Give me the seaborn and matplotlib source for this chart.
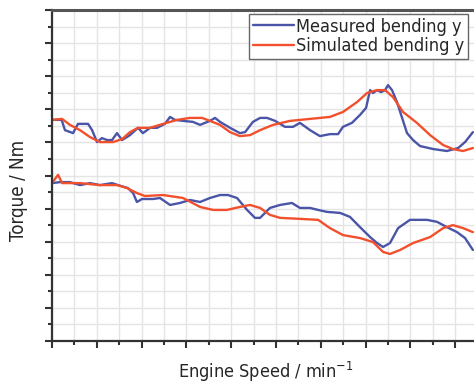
import numpy as np
import pandas as pd
import seaborn as sns
import matplotlib.pyplot as plt
from matplotlib.ticker import MultipleLocator, NullFormatter

# values (x = engine speed, y = torque, arbitrary units)
upper_meas_x = [0, 0.43, 0.58, 0.94, 1.16, 1.61, 1.79, 2.01, 2.23, 2.46, 2.68, 2.90, 3.13, 3.48, 3.84,
                4.06, 4.38, 4.69, 5.04, 5.27, 5.49, 5.85, 6.29, 6.61, 7.05, 7.28, 7.50, 7.95, 8.39, 8.62,
                8.97, 9.29, 9.60, 9.96, 10.40, 10.76, 11.07, 11.52, 11.96, 12.41, 12.77, 12.99, 13.39,
                13.75, 14.02, 14.20, 14.33, 14.51, 14.69, 14.87, 15.00, 15.18, 15.40, 15.63, 15.85,
                16.12, 16.43, 17.01, 17.63, 18.13, 18.44, 18.79]
upper_meas_y = [6.68, 6.68, 6.37, 6.28, 6.56, 6.56, 6.37, 6.01, 6.13, 6.07, 6.07, 6.28, 6.07, 6.22, 6.44,
                6.28, 6.44, 6.44, 6.56, 6.77, 6.68, 6.65, 6.62, 6.53, 6.65, 6.74, 6.62, 6.44, 6.28, 6.31,
                6.62, 6.74, 6.74, 6.65, 6.47, 6.47, 6.59, 6.37, 6.19, 6.25, 6.25, 6.47, 6.59,
                6.83, 7.04, 7.58, 7.49, 7.58, 7.52, 7.58, 7.73, 7.58, 7.22, 6.74, 6.28,
                6.07, 5.89, 5.80, 5.74, 5.83, 6.01, 6.31]

upper_sim_x = [0, 0.45, 0.80, 1.25, 1.70, 2.14, 2.72, 3.13, 3.48, 3.84, 4.38, 4.96, 5.58, 6.16, 6.70,
               7.05, 7.50, 7.95, 8.39, 8.84, 9.29, 9.87, 10.63, 11.52, 12.41, 12.99, 13.62, 14.06,
               14.51, 14.87, 15.22, 15.67, 16.29, 16.88, 17.46, 17.90, 18.35, 18.79]
upper_sim_y = [6.68, 6.71, 6.53, 6.37, 6.16, 6.01, 6.01, 6.10, 6.31, 6.44, 6.44, 6.56, 6.68, 6.74, 6.74,
               6.65, 6.53, 6.31, 6.19, 6.22, 6.37, 6.53, 6.65, 6.71, 6.77, 6.92, 7.22, 7.49,
               7.58, 7.58, 7.37, 6.92, 6.59, 6.22, 5.92, 5.80, 5.74, 5.83]

lower_meas_x = [0, 0.36, 0.80, 1.25, 1.70, 2.14, 2.68, 2.95, 3.39, 3.62, 3.79, 4.02, 4.51, 4.82, 5.27,
                5.71, 6.16, 6.61, 7.05, 7.50, 7.86, 8.26, 8.71, 9.06, 9.29, 9.73, 10.18, 10.71, 11.07,
                11.52, 11.88, 12.28, 12.86, 13.30, 13.75, 14.20, 14.51, 14.78, 15.09, 15.45, 15.98,
                16.74, 17.19, 17.63, 18.08, 18.44, 18.79]
lower_meas_y = [4.77, 4.80, 4.80, 4.71, 4.77, 4.71, 4.77, 4.71, 4.62, 4.47, 4.20, 4.29, 4.29, 4.32, 4.11,
                4.17, 4.26, 4.20, 4.32, 4.41, 4.41, 4.32, 3.96, 3.72, 3.72, 4.02, 4.11, 4.17, 4.02,
                4.02, 3.96, 3.90, 3.87, 3.75, 3.44, 3.14, 2.96, 2.84, 2.96, 3.41, 3.66,
                3.66, 3.60, 3.44, 3.29, 3.11, 2.75]

lower_sim_x = [0, 0.27, 0.45, 1.25, 2.14, 2.90, 3.35, 3.79, 4.15, 4.96, 5.85, 6.61, 7.19, 7.81, 8.39,
               8.84, 9.29, 9.73, 10.18, 11.07, 11.88, 12.41, 12.99, 13.75, 14.33, 14.78, 15.09, 15.54,
               16.12, 16.88, 17.46, 17.90, 18.35, 18.79]
lower_sim_y = [4.77, 5.02, 4.77, 4.77, 4.71, 4.71, 4.62, 4.47, 4.38, 4.41, 4.32, 4.05, 3.96, 3.96, 4.05,
               4.11, 4.02, 3.81, 3.72, 3.69, 3.66, 3.41, 3.20, 3.11, 2.99, 2.69, 2.63, 2.75,
               2.96, 3.14, 3.41, 3.50, 3.41, 3.29]

blue = '#4a55a8'
red = '#f2502c'

sns.set_style("white")
plt.rcParams['font.family'] = ['DejaVu Sans']
plt.rcParams['font.stretch'] = 'condensed'

fig = plt.figure(figsize=(4.74, 3.85), dpi=100)
# axes runs past the right edge of the picture, as in the reference
ax = fig.add_axes([52 / 474, 44 / 385, 448 / 474, 331 / 385])

sns.lineplot(x=upper_meas_x, y=upper_meas_y, ax=ax, color=blue, lw=1.7, estimator=None,
             label='Measured bending y')
sns.lineplot(x=upper_sim_x, y=upper_sim_y, ax=ax, color=red, lw=1.7, estimator=None,
             label='Simulated bending y')
sns.lineplot(x=lower_meas_x, y=lower_meas_y, ax=ax, color=blue, lw=1.7, estimator=None)
sns.lineplot(x=lower_sim_x, y=lower_sim_y, ax=ax, color=red, lw=1.7, estimator=None)

ax.set_xlim(0, 20)
ax.set_ylim(0, 10)
ax.xaxis.set_major_locator(MultipleLocator(2))
ax.xaxis.set_minor_locator(MultipleLocator(1))
ax.yaxis.set_major_locator(MultipleLocator(1))
ax.yaxis.set_minor_locator(MultipleLocator(0.5))
ax.xaxis.set_major_formatter(NullFormatter())
ax.yaxis.set_major_formatter(NullFormatter())
ax.tick_params(which='major', direction='out', length=5, width=1.5, color='#333333',
               bottom=True, left=True)
ax.tick_params(which='minor', direction='out', length=3, width=1.5, color='#333333',
               bottom=True, left=True)
ax.grid(which='both', color='#e4e4e4', lw=1.0)
ax.set_axisbelow(True)

for s in ['left', 'bottom']:
    ax.spines[s].set_color('#333333')
    ax.spines[s].set_linewidth(1.6)
ax.spines['top'].set_color('#555555')
ax.spines['top'].set_linewidth(2.2)
ax.spines['right'].set_visible(False)

ax.set_xlabel('Engine Speed / min$^{-1}$', fontsize=13)
ax.xaxis.set_label_coords(0.478, -0.058)
ax.set_ylabel('Torque / Nm', fontsize=13.5)
ax.yaxis.set_label_coords(-0.054, 0.456)

leg = ax.legend(loc='upper right', bbox_to_anchor=(468 / 474, 1 - 14 / 385),
                bbox_transform=fig.transFigure, borderaxespad=0, fontsize=13,
                handlelength=2.3, handletextpad=0.1, labelspacing=0.1,
                borderpad=0.2, fancybox=False, framealpha=1)
leg.get_frame().set_edgecolor('#666666')
leg.get_frame().set_linewidth(1.0)

plt.savefig('out.png', dpi=100)
